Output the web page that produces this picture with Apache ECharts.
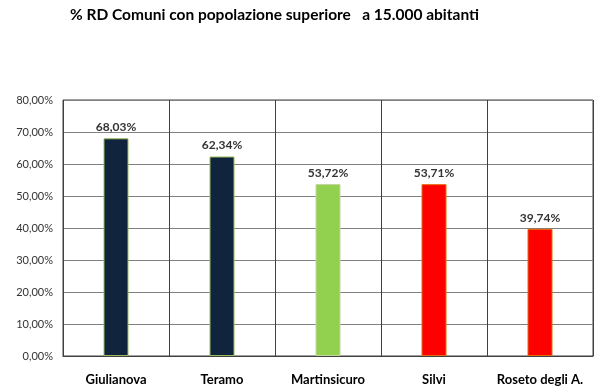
<!DOCTYPE html>
<html><head><meta charset="utf-8">
<script src="https://cdn.jsdelivr.net/npm/echarts@6/dist/echarts.min.js"></script>
<style>html,body{margin:0;padding:0;background:#fff}#c{width:600px;height:392px}</style>
</head><body><div id="c"></div>
<script>
var categories = ["Giulianova","Teramo","Martinsicuro","Silvi","Roseto degli A."];
var values = [68.03, 62.34, 53.72, 53.71, 39.74];
var barColors = ["#10243e","#10243e","#92d050","#ff0000","#ff0000"];
var borderColors = ["#9bbb59","#9bbb59","#c3d69b","#e46c0a","#e46c0a"];
var yTicks = [0,10,20,30,40,50,60,70,80];
var titleText = "% RD Comuni con popolazione superiore   a 15.000 abitanti";

function fmt(v){ return v.toFixed(2).replace('.', ',') + '%'; }

var chart = echarts.init(document.getElementById('c'));
chart.setOption({
  animation:false,
  title:{text:titleText,left:65,top:2,textStyle:{fontFamily:'Lato',fontWeight:'bold',fontSize:15.5,color:'#000'}},
  grid:{left:63,right:7,top:100,bottom:36,show:true,borderColor:'#404040',borderWidth:1},
  xAxis:{type:'category',data:categories,
    axisLine:{show:true,lineStyle:{color:'#404040'}},axisTick:{show:false},
    splitLine:{show:true,lineStyle:{color:'#404040',width:1}},
    axisLabel:{margin:17,fontFamily:'Lato',fontWeight:'bold',fontSize:13,color:'#000',interval:0}},
  yAxis:{type:'value',min:0,max:80,interval:10,
    axisLine:{show:false},axisTick:{show:false},
    splitLine:{lineStyle:{color:'#808080',width:1}},
    axisLabel:{margin:10,fontFamily:'Lato',fontSize:11,color:'#333',formatter:function(v){return v.toFixed(2).replace('.',',')+'%';}}},
  series:[{type:'bar',barWidth:25,
    data:values.map(function(v,i){return {value:v,itemStyle:{color:barColors[i],borderColor:borderColors[i],borderWidth:1}};}),
    label:{show:true,position:'top',distance:5,fontFamily:'Lato',fontWeight:'bold',fontSize:12,color:'#333',formatter:function(p){return fmt(p.value);}}
  }]
});
</script></body></html>
